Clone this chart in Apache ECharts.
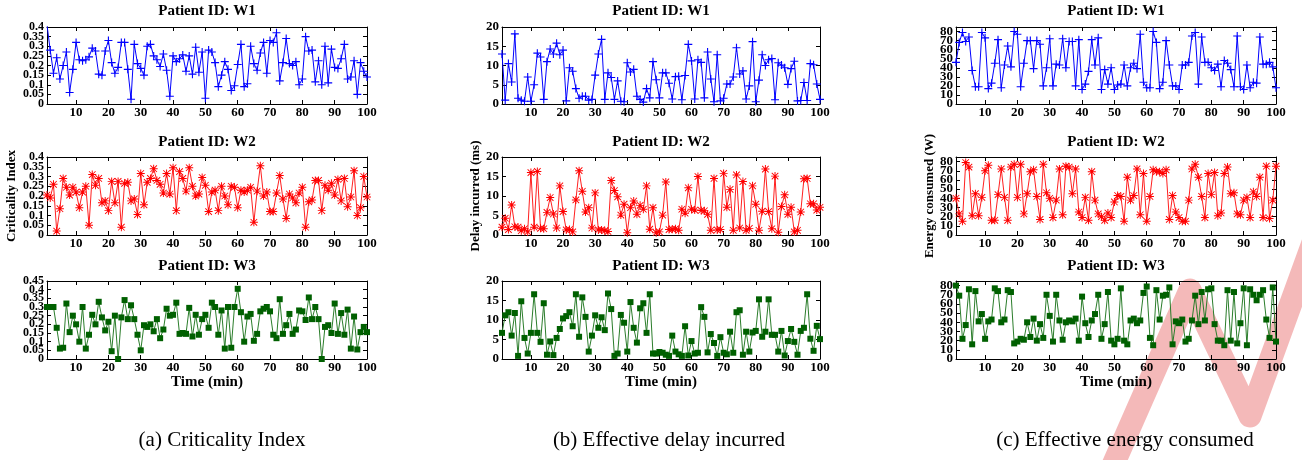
<!DOCTYPE html>
<html lang="en">
<head>
    <meta charset="UTF-8">
    <title>Patient W1-W3</title>
    <script src="https://cdn.jsdelivr.net/npm/echarts@6/dist/echarts.min.js"></script>
</head>
<body style="margin:0;background:#fff">
<div id="chartBox" style="width: 1302px;height: 460px;"></div>
</body>
<script>
    // time axis: one reading per minute
    var minutes = [];
    for (var m = 1; m <= 100; m++) { minutes.push(m); }
    var timeTicks = [10, 20, 30, 40, 50, 60, 70, 80, 90, 100];

    var ciTicks = [0, 0.05, 0.1, 0.15, 0.2, 0.25, 0.3, 0.35, 0.4];
    var ciTicksW3 = [0, 0.05, 0.1, 0.15, 0.2, 0.25, 0.3, 0.35, 0.4, 0.45];
    var delayTicks = [0, 5, 10, 15, 20];
    var energyTicks = [0, 10, 20, 30, 40, 50, 60, 70, 80];

    // (a) criticality index
    var ciW1 = [0.41,0.28,0.16,0.24,0.13,0.20,0.27,0.06,0.18,0.32,
        0.23,0.225,0.23,0.245,0.29,0.275,0.155,0.15,0.275,0.33,
        0.215,0.16,0.19,0.32,0.32,0.18,0.025,0.31,0.21,0.185,
        0.15,0.30,0.31,0.25,0.23,0.195,0.26,0.175,0.04,0.25,
        0.22,0.235,0.255,0.17,0.25,0.155,0.295,0.165,0.27,0.03,
        0.28,0.27,0.215,0.09,0.15,0.22,0.18,0.07,0.095,0.205,
        0.31,0.09,0.105,0.30,0.21,0.175,0.265,0.32,0.16,0.33,
        0.32,0.37,0.12,0.215,0.34,0.21,0.20,0.22,0.10,0.13,
        0.35,0.275,0.28,0.115,0.225,0.10,0.30,0.11,0.285,0.19,
        0.185,0.235,0.31,0.13,0.14,0.225,0.05,0.215,0.17,0.14];
    var ciW2 = [0.205,0.19,0.26,0.02,0.135,0.29,0.245,0.205,0.245,0.22,
        0.14,0.22,0.25,0.05,0.31,0.255,0.29,0.165,0.175,0.125,
        0.275,0.165,0.275,0.04,0.265,0.27,0.175,0.185,0.105,0.315,
        0.155,0.27,0.29,0.34,0.28,0.26,0.215,0.315,0.21,0.345,
        0.125,0.325,0.29,0.225,0.345,0.25,0.20,0.21,0.295,0.255,
        0.12,0.22,0.23,0.125,0.25,0.20,0.155,0.25,0.245,0.14,
        0.23,0.22,0.23,0.245,0.065,0.225,0.355,0.20,0.22,0.12,
        0.12,0.215,0.305,0.185,0.085,0.21,0.19,0.165,0.215,0.245,
        0.04,0.17,0.18,0.28,0.28,0.125,0.255,0.23,0.265,0.205,
        0.285,0.175,0.29,0.145,0.195,0.33,0.10,0.14,0.30,0.195];
    var ciW3 = [0.30,0.30,0.30,0.18,0.06,0.065,0.32,0.155,0.25,0.20,
        0.10,0.30,0.06,0.14,0.255,0.20,0.33,0.24,0.165,0.215,
        0.045,0.25,0.0,0.24,0.34,0.23,0.31,0.23,0.14,0.05,
        0.195,0.185,0.20,0.16,0.23,0.12,0.17,0.29,0.25,0.255,
        0.325,0.145,0.15,0.145,0.295,0.13,0.255,0.14,0.23,0.255,
        0.18,0.325,0.30,0.14,0.28,0.06,0.30,0.065,0.30,0.405,
        0.27,0.10,0.245,0.26,0.105,0.145,0.275,0.29,0.30,0.275,
        0.14,0.12,0.345,0.145,0.195,0.26,0.145,0.17,0.28,0.275,
        0.225,0.355,0.23,0.30,0.23,0.0,0.185,0.195,0.15,0.32,
        0.145,0.265,0.14,0.285,0.06,0.245,0.055,0.155,0.185,0.155];

    // (b) delay incurred (ms)
    var delayW1 = [13,1,10.5,5.7,18.2,1.5,1,0.7,7,0.7,
        5,13.2,12.2,1.2,11,14.3,13,15.8,12.8,14,
        0.8,9.4,8.5,4,1.5,2,2,1,1.2,7.5,
        13,16.8,1.2,8.1,6.9,1.2,6,0.7,0.6,10.7,
        8.3,9,2,1.2,0.5,4,1.6,11,6.3,1.6,
        8.1,8.1,5.4,1.3,7.1,7.2,1.1,7.4,15.5,11.2,
        1.3,11.5,10.8,1.6,13.5,6.5,0.6,12.8,0.8,1.5,
        5.2,5.2,7,14.6,7.8,8.6,1.3,4.7,16.2,0.6,
        6.2,12.8,10,11.5,11.8,1.1,10.7,10.1,9.4,5.1,
        9.2,11.1,0.8,0.9,5.6,0.9,10.5,10.2,5.2,1.2];
    var delayW2 = [2,4.3,1.4,7.7,2.1,2,1.1,1.6,0.8,16,
        2,16.3,1.7,1.6,5.8,9.6,5.4,1.8,12.6,6,
        1.3,1.4,0.8,9,16.5,11.2,5.9,7,1.8,10.8,
        1.3,1.3,1.1,0.9,14,11.4,9.8,5.1,7.9,0.6,
        7,8.7,5.3,7.6,6.6,12.6,1.5,7,0.6,0.8,
        5.1,13.6,1.4,1.5,1.6,1.2,6.6,5.6,12.1,6.6,
        6.4,15,6.3,6.2,5.3,1.2,14.5,1.3,1.4,15.8,
        7.1,11.7,1.2,15.4,1.8,13.7,1.2,1.7,12.6,7.9,
        1.2,6.1,16.9,6,1.6,15.1,0.7,7.3,10.3,5.3,
        7.1,0.8,1.2,5.9,14.4,14.5,8,8,6.4,7.1];
    var delayW3 = [6.7,11.2,12,6,11.8,0.8,14.8,5.4,1.4,6.7,
        16.6,6.7,4.4,14.3,1.1,4.5,1,5.4,7.7,10.4,
        11,12,8.4,16.6,5.7,15.8,10.8,1.9,6,11.2,
        8,10.7,7.4,16.8,12.8,0.8,1.4,11.3,9.3,1.9,
        14.6,8,4.2,13,14.3,6.7,16.6,1.4,1.4,1.8,
        1.6,1.1,0.8,6,1.9,1.2,0.8,8.4,0.9,4.6,
        1.4,1.6,13.3,10.8,1.7,6.4,4.1,0.8,5.6,1.6,
        1.2,7,1.6,12,12.5,1.1,7,1.9,6.8,7.2,
        15.3,5.7,7,15.3,6.2,6.2,1.9,7.2,0.9,4.6,
        7.7,4.4,1.1,7.2,8,16.6,5.2,2.1,8.5,5.1];

    // (c) energy consumed (W)
    var energyW1 = [46,68,79,69,74,37,19,19,79,73,
        17,23,45,71,18,43,64,41,80,77,
        19,45,70,70,39,70,66,20,40,72,
        20,44,43,72,40,69,69,20,71,16,
        22,36,71,43,73,16,38,22,40,16,
        21,22,43,20,40,45,39,77,24,18,
        18,80,68,17,24,70,43,20,20,16,
        43,43,46,75,79,22,74,46,46,40,
        37,44,19,48,45,38,19,75,19,16,
        43,18,24,23,74,44,44,46,41,18];
    var energyW2 = [40,23,15,79,74,21,45,21,41,70,
        76,16,16,44,72,41,16,74,77,41,
        77,23,45,69,71,42,17,77,46,40,
        19,38,72,22,75,74,45,72,25,19,
        41,16,69,38,23,20,16,24,19,36,
        43,42,15,63,38,43,72,22,67,15,
        42,71,69,69,67,71,17,43,25,19,
        15,15,38,72,77,63,42,19,67,44,
        68,21,24,67,74,45,46,23,22,38,
        41,19,47,42,63,19,75,18,38,75];
    var energyW3 = [80,69,22,37,76,16,74,41,49,22,
        41,43,77,74,40,43,75,73,17,19,
        22,21,40,24,44,20,38,23,70,47,
        19,70,42,21,40,42,41,44,20,68,
        39,24,42,49,70,22,38,73,20,16,
        22,77,20,16,42,44,39,42,72,79,
        23,15,75,43,69,70,78,16,41,39,
        43,19,22,42,69,38,73,42,76,77,
        38,20,20,15,75,20,73,17,39,77,
        15,76,70,64,70,75,43,23,78,19];

    var serif = 'Liberation Serif';

    // gnuplot-ish point types
    var plusSym = 'path://M4.3,0H5.7V4.3H10V5.7H5.7V10H4.3V5.7H0V4.3H4.3Z';
    var starSym = 'path://M4.4,0H5.6V4.4H10V5.6H5.6V10H4.4V5.6H0V4.4H4.4Z' +
        'M1.3,0.5L5,4.2L8.7,0.5L9.5,1.3L5.8,5L9.5,8.7L8.7,9.5L5,5.8L1.3,9.5L0.5,8.7L4.2,5L0.5,1.3Z';

    var rowStyle = [
        {name: 'W1', line: '#0000ff', mark: '#0000ff', symbol: plusSym, size: 8},
        {name: 'W2', line: '#ff2020', mark: '#ff0000', symbol: starSym, size: 8},
        {name: 'W3', line: '#2b7d2b', mark: '#006000', symbol: 'rect', size: 6}
    ];

    var colLeft = [47, 502, 956];
    var colWidth = [320, 318, 320];
    var rowTop = [27, 157, 281];
    var rowHeight = [77, 78, 78];
    var titleTop = [4, 135, 259];

    var columns = [
        {data: [ciW1, ciW2, ciW3], max: [0.4, 0.4, 0.45], ticks: [ciTicks, ciTicks, ciTicksW3],
            name: 'Criticality Index', nameGap: 29, labelSize: 12},
        {data: [delayW1, delayW2, delayW3], max: [20, 20, 20], ticks: [delayTicks, delayTicks, delayTicks],
            name: 'Delay incurred (ms)', nameGap: 20, labelSize: 13},
        {data: [energyW1, energyW2, energyW3], max: [85, 85, 85], ticks: [energyTicks, energyTicks, energyTicks],
            name: 'Energy consumed (W)', nameGap: 20, labelSize: 13}
    ];

    var grids = [], xAxes = [], yAxes = [], series = [], titles = [];

    function pairs(values) {
        var res = [];
        for (var i = 0; i < values.length; i++) {
            res.push([minutes[i], values[i]]);
        }
        return res;
    }

    // split tick list into every other value, so crowded labels aren't culled
    function everyOther(list, start) {
        var res = [];
        for (var i = start; i < list.length; i += 2) { res.push(list[i]); }
        return res;
    }

    for (var c = 0; c < 3; c++) {
        for (var r = 0; r < 3; r++) {
            var k = grids.length;
            var col = columns[c];
            var st = rowStyle[r];
            grids.push({left: colLeft[c], top: rowTop[r], width: colWidth[c], height: rowHeight[r]});

            titles.push({
                text: 'Patient ID: ' + st.name,
                left: colLeft[c] + colWidth[c] / 2,
                top: titleTop[r],
                textAlign: 'center',
                padding: 0,
                textStyle: {fontFamily: serif, fontWeight: 'bold', fontSize: 15, color: '#000'}
            });

            var tickBase = {show: true, inside: true, length: 4, lineStyle: {color: '#000', width: 1}};
            var labelBase = {margin: 3, color: '#000', showMinLabel: true, showMaxLabel: true,
                fontFamily: serif, fontWeight: 'bold', fontSize: col.labelSize};

            // bottom + mirrored top
            xAxes.push({
                gridIndex: k, type: 'value', min: 1, max: 100,
                axisLine: {onZero: false, lineStyle: {color: '#000', width: 1}},
                axisTick: Object.assign({customValues: timeTicks}, tickBase),
                axisLabel: {customValues: timeTicks, margin: 2, color: '#000',
                    fontFamily: serif, fontWeight: 'bold', fontSize: 13},
                splitLine: {show: false},
                name: r === 2 ? 'Time (min)' : '',
                nameLocation: 'middle', nameGap: 15,
                nameTextStyle: {fontFamily: serif, fontWeight: 'bold', fontSize: 15, color: '#000'}
            });
            xAxes.push({
                gridIndex: k, type: 'value', min: 1, max: 100, position: 'top',
                axisLine: {onZero: false, lineStyle: {color: '#000', width: 1}},
                axisTick: Object.assign({customValues: timeTicks}, tickBase),
                axisLabel: {show: false},
                splitLine: {show: false}
            });

            // left axis: line, ticks, even labels
            yAxes.push({
                gridIndex: k, type: 'value', min: 0, max: col.max[r], position: 'left',
                axisLine: {show: true, lineStyle: {color: '#000', width: 1}},
                axisTick: Object.assign({customValues: col.ticks[r]}, tickBase),
                axisLabel: Object.assign({customValues: everyOther(col.ticks[r], 0)}, labelBase),
                splitLine: {show: false},
                name: r === 1 ? col.name : '',
                nameLocation: 'middle', nameGap: col.nameGap,
                nameTextStyle: {fontFamily: serif, fontWeight: 'bold', fontSize: 13, color: '#000'}
            });
            // left axis overlay: odd labels only
            yAxes.push({
                gridIndex: k, type: 'value', min: 0, max: col.max[r], position: 'left', offset: 0,
                axisLine: {show: false},
                axisTick: {show: false},
                axisLabel: Object.assign({customValues: everyOther(col.ticks[r], 1)}, labelBase),
                splitLine: {show: false}
            });
            // mirrored right
            yAxes.push({
                gridIndex: k, type: 'value', min: 0, max: col.max[r], position: 'right',
                axisLine: {show: true, lineStyle: {color: '#000', width: 1}},
                axisTick: Object.assign({customValues: col.ticks[r]}, tickBase),
                axisLabel: {show: false},
                splitLine: {show: false}
            });

            series.push({
                type: 'line',
                xAxisIndex: 2 * k,
                yAxisIndex: 3 * k,
                data: pairs(col.data[r]),
                symbol: st.symbol,
                symbolSize: st.size,
                showAllSymbol: true,
                animation: false,
                lineStyle: {color: st.line, width: 1},
                itemStyle: {color: st.mark}
            });
        }
    }

    var captionFont = {fontFamily: serif, fontSize: 21, color: '#000'};
    var washed = 'rgba(225, 60, 60, 0.36)';

    var option = {
        backgroundColor: '#fff',
        animation: false,
        title: titles,
        grid: grids,
        xAxis: xAxes,
        yAxis: yAxes,
        series: series,
        graphic: [
            // faint red stamp over the lower right corner, kept under the marks
            {type: 'polyline', silent: true, z: 0,
                shape: {points: [[1110, 472], [1190, 290], [1250, 416], [1314, 240]]},
                style: {stroke: washed, lineWidth: 23, fill: null, lineJoin: 'round'}},
            {type: 'text', x: 222, y: 440, silent: true, z: 5,
                style: {text: '{k|(a) }{r|Criticality Index}', align: 'center', verticalAlign: 'middle',
                    rich: {k: captionFont, r: {fontFamily: serif, fontSize: 21, color: '#ff0000'}}}},
            {type: 'text', x: 669, y: 440, silent: true, z: 5,
                style: Object.assign({text: '(b) Effective delay incurred', align: 'center', verticalAlign: 'middle'}, captionFont)},
            {type: 'text', x: 1125, y: 440, silent: true, z: 5,
                style: Object.assign({text: '(c) Effective energy consumed', align: 'center', verticalAlign: 'middle'}, captionFont)}
        ]
    };

    var chartBox = echarts.init(document.getElementById('chartBox'));
    chartBox.setOption(option);
</script>
</html>
